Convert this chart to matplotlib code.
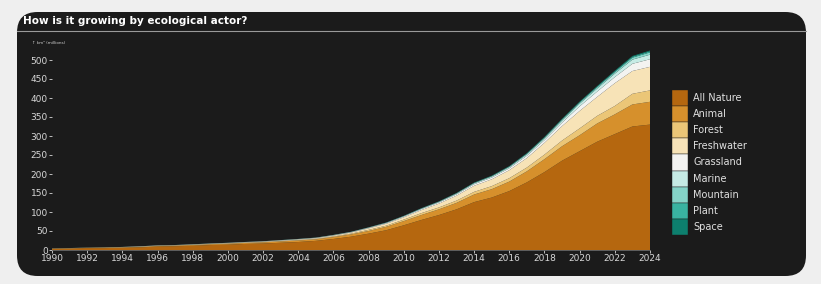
import matplotlib
matplotlib.use("Agg")
import matplotlib.pyplot as plt
from matplotlib.patches import FancyBboxPatch, Rectangle
from matplotlib.lines import Line2D
from matplotlib import font_manager

years = list(range(1990, 2025))

all_nature = [3, 4, 5, 5, 6, 7, 9, 10, 11, 13, 14, 16, 17, 19, 21, 24, 29, 35, 43, 52,
              65, 79, 92, 107, 126, 138, 155, 178, 205, 235, 260, 285, 305, 325, 330]
animal = [0.5, 0.5, 0.5, 1, 1, 1, 1.5, 1.5, 2, 2, 2.5, 2.5, 3, 3.5, 4, 4, 5, 6, 7, 9,
          11, 13, 15, 17, 20, 22, 25, 29, 34, 38, 42, 48, 52, 58, 60]
forest = [0.2, 0.2, 0.2, 0.3, 0.3, 0.5, 0.5, 0.5, 0.6, 0.7, 0.8, 0.9, 1, 1.1, 1.2, 1.4, 1.7, 2, 3, 3,
          4, 5, 5, 6, 7, 8, 9, 10, 12, 15, 18, 20, 22, 28, 30]
freshwater = [0.2, 0.2, 0.2, 0.4, 0.4, 0.8, 0.6, 0.6, 0.8, 0.8, 1, 1, 1.2, 1.4, 1.6, 1.8, 2.3, 2.8, 4, 5,
              6, 8, 10, 13, 16, 18, 21, 25, 31, 38, 46, 50, 60, 60, 62]
grassland = [0.1, 0.1, 0.1, 0.1, 0.2, 0.2, 0.2, 0.2, 0.3, 0.3, 0.3, 0.3, 0.4, 0.5, 0.6, 0.7, 0.8, 1, 1.3, 1.6,
             2, 2.5, 3, 3.5, 4, 4.5, 5, 6, 7, 9, 12, 14, 16, 19, 20]
marine = [0.1, 0.1, 0.1, 0.1, 0.1, 0.2, 0.2, 0.2, 0.2, 0.2, 0.2, 0.3, 0.3, 0.3, 0.4, 0.4, 0.5, 0.6, 0.7, 0.9,
          1, 1.3, 1.6, 2, 2.4, 2.7, 3, 3.6, 4.5, 5.5, 7, 8, 9, 11, 12]
mountain = [0.05, 0.05, 0.05, 0.05, 0.05, 0.1, 0.1, 0.1, 0.1, 0.1, 0.1, 0.1, 0.1, 0.2, 0.2, 0.2, 0.2, 0.3, 0.3, 0.4,
            0.5, 0.6, 0.7, 0.8, 1, 1.2, 1.4, 1.7, 2.1, 2.5, 3, 3.6, 4.2, 5.2, 6]
plant = [0.05, 0.05, 0.05, 0.05, 0.05, 0.05, 0.05, 0.05, 0.1, 0.1, 0.1, 0.1, 0.1, 0.1, 0.1, 0.1, 0.2, 0.2, 0.2, 0.3,
         0.3, 0.4, 0.4, 0.5, 0.6, 0.7, 0.8, 1, 1.2, 1.4, 1.6, 1.9, 2.2, 2.6, 3]
space = [0.02, 0.02, 0.02, 0.02, 0.02, 0.02, 0.02, 0.05, 0.05, 0.05, 0.05, 0.05, 0.05, 0.05, 0.1, 0.1, 0.1, 0.1, 0.2, 0.2,
         0.2, 0.3, 0.3, 0.3, 0.4, 0.5, 0.6, 0.7, 0.8, 0.9, 1, 1.2, 1.5, 1.8, 2]

series_names = ["All Nature", "Animal", "Forest", "Freshwater", "Grassland",
                "Marine", "Mountain", "Plant", "Space"]
series = [all_nature, animal, forest, freshwater, grassland, marine, mountain, plant, space]
colors = ["#b5670f", "#d6902c", "#ebc677", "#f7e3b7", "#f3f3f1",
          "#c6ebe5", "#85d4c8", "#39b3a1", "#0d7f6e"]

y_ticks = [0, 50, 100, 150, 200, 250, 300, 350, 400, 450, 500]
x_ticks = list(range(1990, 2025, 2))

names_installed = {f.name for f in font_manager.fontManager.ttflist}
title_family = ["Liberation Sans Narrow", "DejaVu Sans"] if "Liberation Sans Narrow" in names_installed else ["DejaVu Sans"]
title_size = 9 if "Liberation Sans Narrow" in names_installed else 7.5

W, H = 821, 284
fig = plt.figure(figsize=(W / 100, H / 100), dpi=100)
fig.patch.set_facecolor("#efefef")

# dark rounded panel
panel = FancyBboxPatch((17 / W, 8 / H), (806 - 17) / W, (272 - 8) / H,
                       boxstyle="round,pad=0,rounding_size=0.025",
                       transform=fig.transFigure, facecolor="#1b1b1b",
                       edgecolor="none", mutation_aspect=W / H, zorder=-10)
fig.add_artist(panel)

fig.text(23 / W, 1 - 21 / H, "How is it growing by ecological actor?", color="white",
         fontsize=title_size, fontweight="bold", va="center", ha="left", family=title_family)
fig.add_artist(Line2D([17 / W, 806 / W], [1 - 31 / H, 1 - 31 / H], transform=fig.transFigure,
                      color="#9a9a9a", lw=0.8))
fig.text(32 / W, 1 - 43 / H, "↑ km² (millions)", color="#d0d0d0", fontsize=3, va="center", ha="left")

# axes: x 52..650 px, y 0 at 250px, 540 at ~45px
ax_left, ax_right = 52, 650
ax_bottom = 250
ymax = 540
ax_top = 250 - ymax * 0.38
ax = fig.add_axes([ax_left / W, 1 - ax_bottom / H, (ax_right - ax_left) / W, (ax_bottom - ax_top) / H])
ax.set_zorder(5)
ax.patch.set_visible(False)
ax.stackplot(years, *series, colors=colors, labels=series_names, linewidth=0)
ax.set_xlim(1990, 2024)
ax.set_ylim(0, ymax)
ax.set_xticks(x_ticks)
ax.set_yticks(y_ticks)
ax.tick_params(axis="both", colors="#d8d8d8", labelsize=6.5, length=2, width=0.6, pad=1)
for s in ax.spines.values():
    s.set_visible(False)
ax.spines["bottom"].set_visible(True)
ax.spines["bottom"].set_color("#6a6a6a")
ax.spines["bottom"].set_linewidth(0.6)

# legend
lx, lw_, ly0, lh = 672, 16, 90, 16.1
for i, (name, c) in enumerate(zip(series_names, colors)):
    y = ly0 + i * lh
    fig.add_artist(Rectangle((lx / W, 1 - (y + lh) / H), lw_ / W, lh / H,
                             transform=fig.transFigure, facecolor=c,
                             edgecolor="#1b1b1b", linewidth=0.3))
    fig.text((lx + 21) / W, 1 - (y + lh / 2) / H, name, color="#e0e0e0",
             fontsize=7, va="center", ha="left")

fig.savefig("out.png", dpi=100, facecolor=fig.get_facecolor())
